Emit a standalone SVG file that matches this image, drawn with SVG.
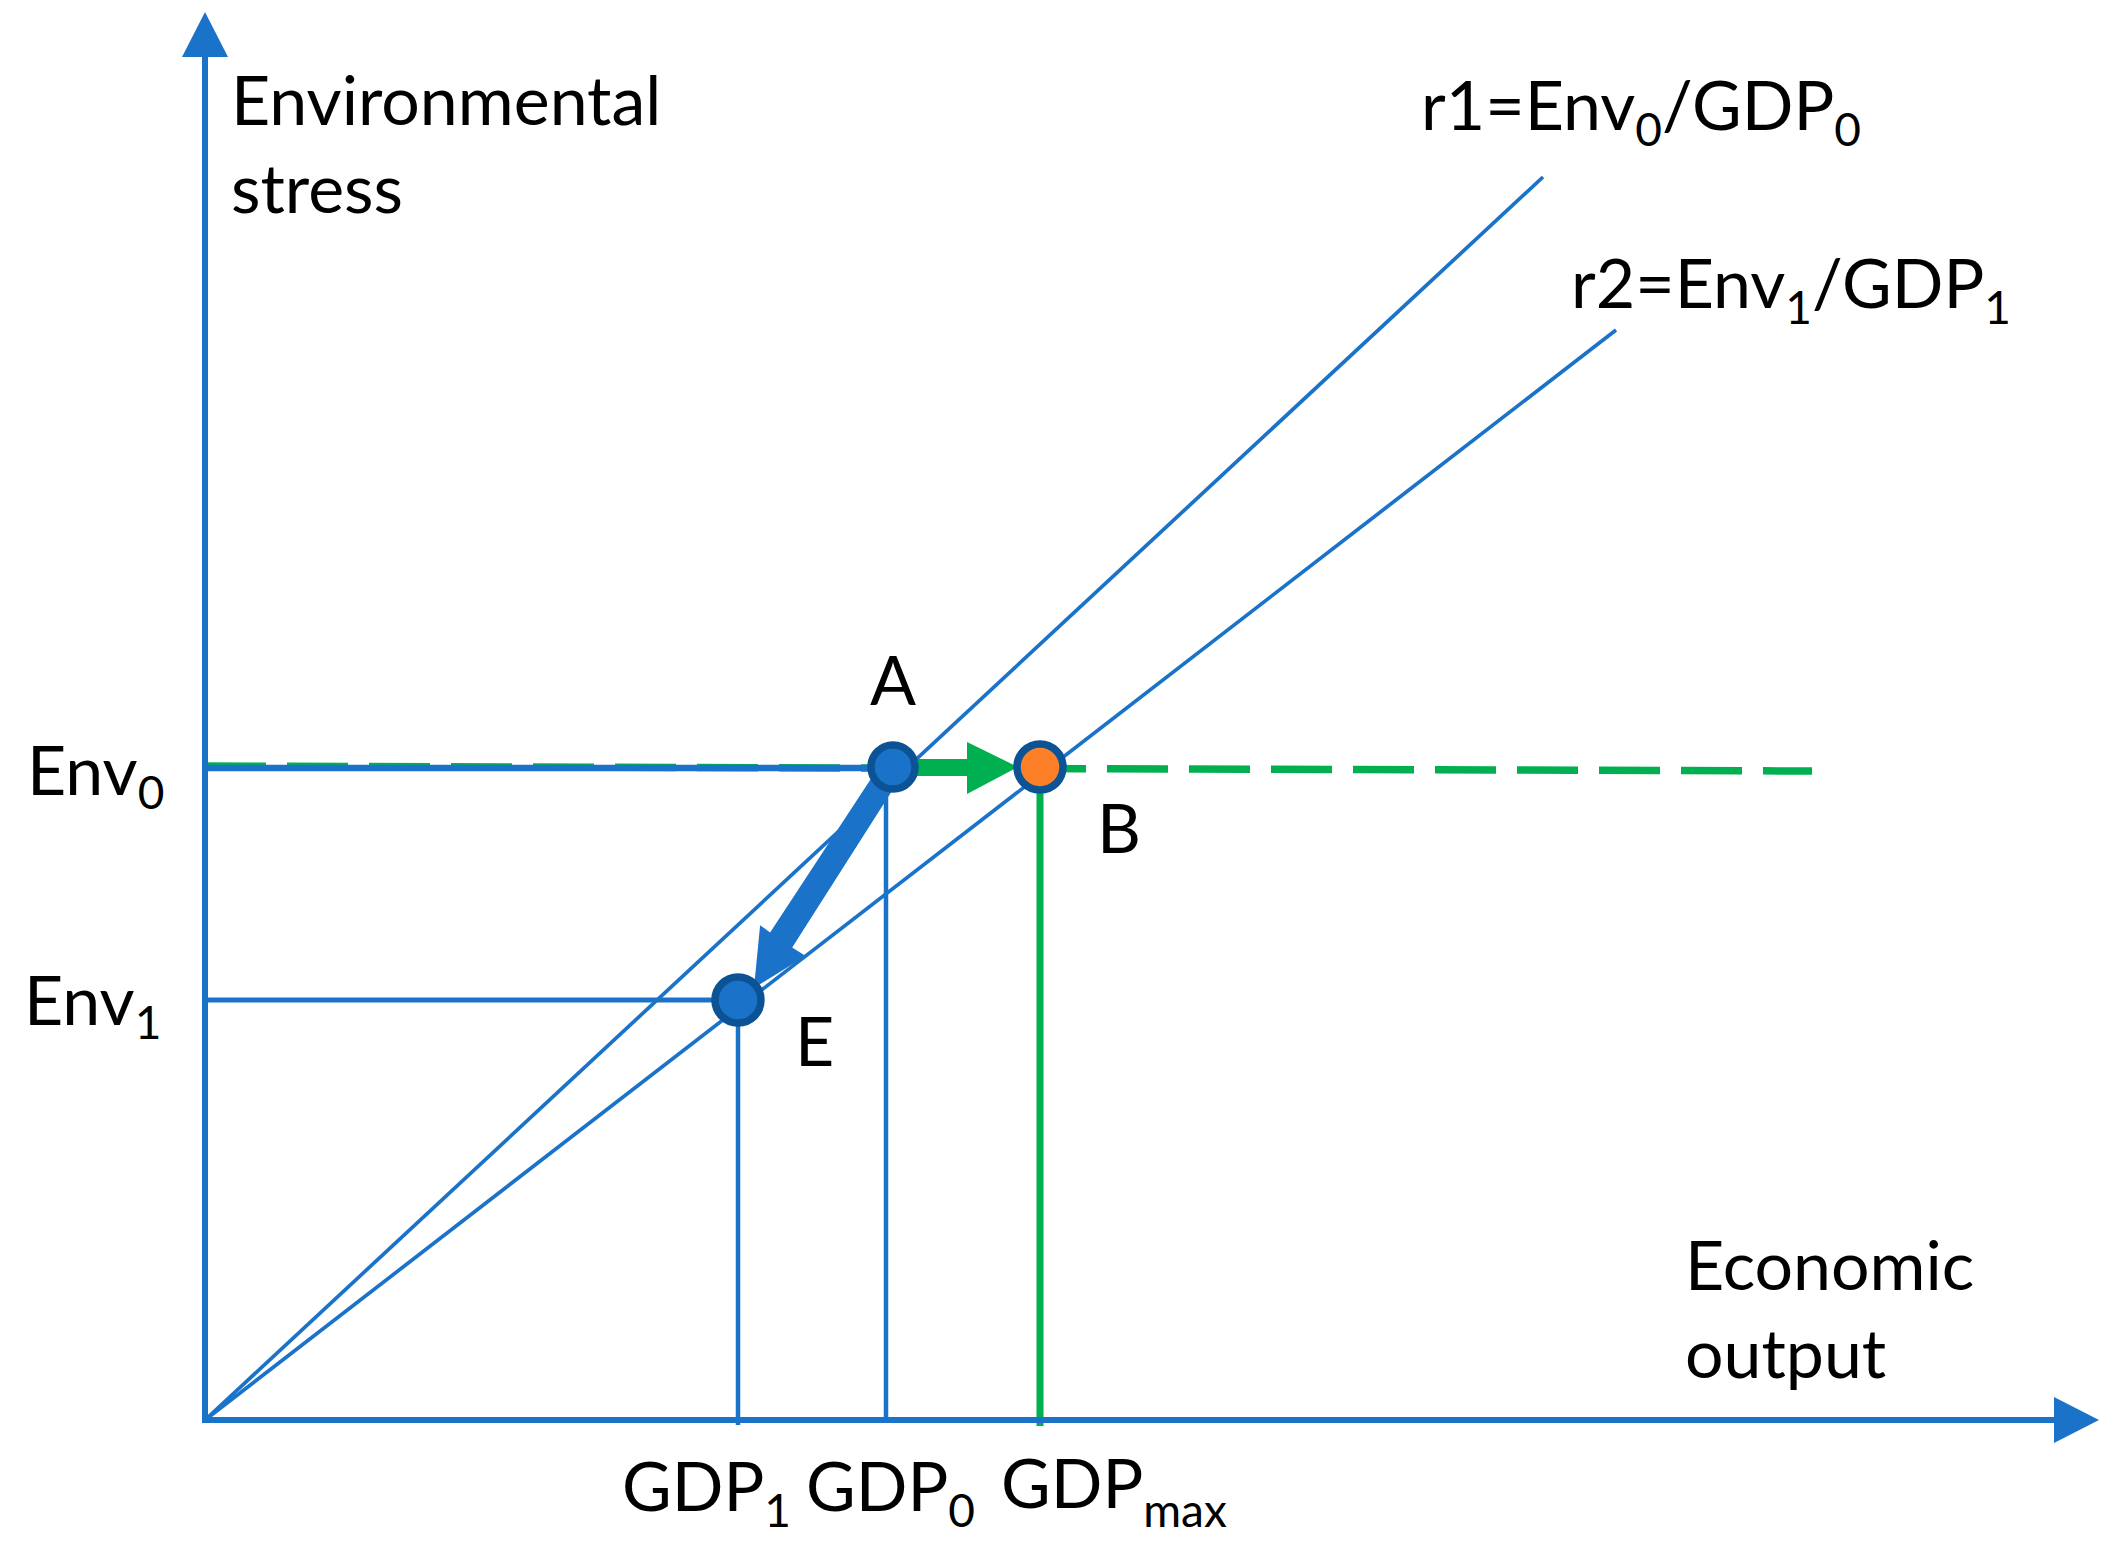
<svg xmlns="http://www.w3.org/2000/svg" width="2124" height="1564" viewBox="0 0 2124 1564">
<style>
.t{font-family:Lato,"Open Sans","Liberation Sans",sans-serif;font-size:68px;fill:#000}
.s{font-size:46px}
.bl{stroke:#1a73c8;fill:none}
.gr{stroke:#00b050;fill:none}
.pt{stroke:#0b5394;stroke-width:7.5}
</style>
<rect width="2124" height="1564" fill="#fff"/>
<g id="connectors">
  <line id="env0-dashed" class="gr" x1="205" y1="766" x2="1812" y2="771" stroke-width="7.5" stroke-dasharray="61 21"/>
  <line id="env0-line" class="bl" x1="205" y1="768" x2="893" y2="768" stroke-width="6.5"/>
  <line id="env1-line" class="bl" x1="205" y1="1000" x2="738" y2="1000" stroke-width="5"/>
  <line id="r1" class="bl" x1="205" y1="1420" x2="1543" y2="177" stroke-width="3.7"/>
  <line id="r2" class="bl" x1="205" y1="1420" x2="1616" y2="330" stroke-width="3.7"/>
  <line id="gdp1-line" class="bl" x1="738" y1="1000" x2="738" y2="1425" stroke-width="4.5"/>
  <line id="gdp0-line" class="bl" x1="886" y1="767" x2="886" y2="1420" stroke-width="4.5"/>
  <line id="gdpmax-line" class="gr" x1="1040" y1="767" x2="1040" y2="1426" stroke-width="7"/>
  <g id="y-axis">
    <line class="bl" x1="205" y1="1423" x2="205" y2="55" stroke-width="6"/>
    <polygon points="182,57 228,57 205,12" fill="#1a73c8"/>
  </g>
  <g id="x-axis">
    <line class="bl" x1="202" y1="1420" x2="2056" y2="1420" stroke-width="6"/>
    <polygon points="2054,1397 2054,1443 2099,1420" fill="#1a73c8"/>
  </g>
  <polygon id="arrow-A-E" fill="#1a73c8" points="903.1,773.4 792.2,947.4 805.7,956 754,988 760.1,925.2 770.1,932.4 882.9,760.6"/>
  <polygon id="arrow-A-B" fill="#00b050" points="917,759 967,759 967,742 1018,767 967,794 967,776 917,776"/>
</g>
<g id="node-A">
  <circle class="pt" cx="893" cy="767" r="22" fill="#1a73c8"/>
  <text class="t" x="870" y="705">A</text>
</g>
<g id="node-B">
  <circle class="pt" cx="1040" cy="767" r="23" fill="#fd7f27"/>
  <text class="t" x="1097" y="853">B</text>
</g>
<g id="node-E">
  <circle class="pt" cx="738" cy="1000" r="23" fill="#1a73c8"/>
  <text class="t" x="795" y="1066">E</text>
</g>
<g id="labels">
  <text class="t" x="231" y="125">Environmental</text>
  <text class="t" x="231" y="213">stress</text>
  <text class="t" x="1685" y="1290">Economic</text>
  <text class="t" x="1685" y="1378">output</text>
  <text class="t" x="1421" y="130">r1=Env<tspan class="s" dy="16">0</tspan><tspan dy="-16">/GDP</tspan><tspan class="s" dy="16">0</tspan></text>
  <text class="t" x="1571" y="308">r2=Env<tspan class="s" dy="16">1</tspan><tspan dy="-16">/GDP</tspan><tspan class="s" dy="16">1</tspan></text>
  <text class="t" x="27" y="795">Env<tspan class="s" dy="14">0</tspan></text>
  <text class="t" x="24" y="1025">Env<tspan class="s" dy="14">1</tspan></text>
  <text class="t" x="622" y="1511">GDP<tspan class="s" dy="16">1</tspan></text>
  <text class="t" x="806" y="1511">GDP<tspan class="s" dy="16">0</tspan></text>
  <text class="t" x="1001" y="1508">GDP<tspan class="s" dy="19">max</tspan></text>
</g>
</svg>
